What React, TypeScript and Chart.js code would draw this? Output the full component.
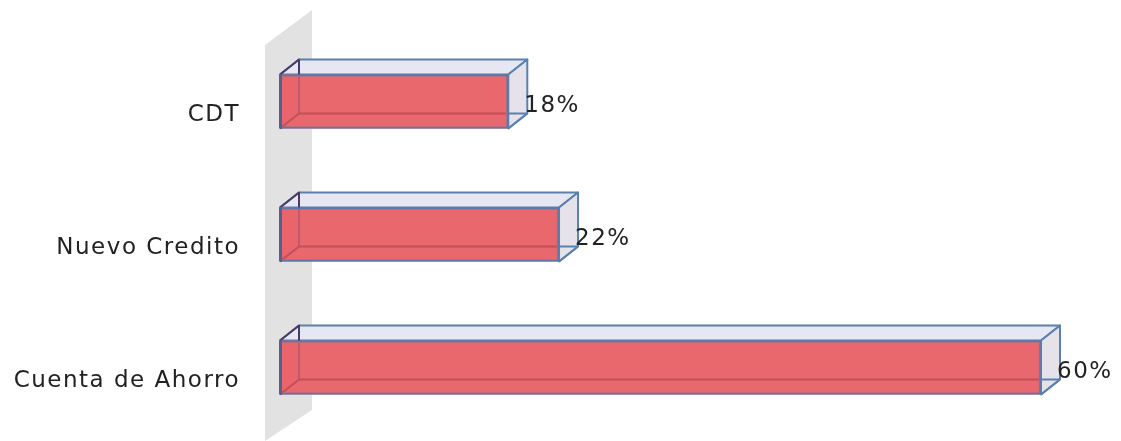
import React, { useEffect, useRef } from "react";
import { Chart, registerables } from "chart.js";

Chart.register(...registerables);

const categories = ["CDT", "Nuevo Credito", "Cuenta de Ahorro"];
const shares = [18, 22, 60];

const FONT = '"DejaVu Sans", sans-serif';
const FONT_SIZE = 23;
const TEXT_SPACING = "1.5px";
const DEPTH_X = 19;
const DEPTH_Y = -15;
const EDGE = "#5A80B0";

type Pt = [number, number];

function poly(ctx: CanvasRenderingContext2D, pts: Pt[], fill?: string, stroke?: string, lw = 2) {
  ctx.beginPath();
  pts.forEach(([x, y], i) => (i ? ctx.lineTo(x, y) : ctx.moveTo(x, y)));
  ctx.closePath();
  if (fill) {
    ctx.fillStyle = fill;
    ctx.fill();
  }
  if (stroke) {
    ctx.strokeStyle = stroke;
    ctx.lineWidth = lw;
    ctx.lineJoin = "round";
    ctx.stroke();
  }
}

function segment(ctx: CanvasRenderingContext2D, pts: Pt[], color: string, lw = 2) {
  ctx.beginPath();
  pts.forEach(([x, y], i) => (i ? ctx.lineTo(x, y) : ctx.moveTo(x, y)));
  ctx.strokeStyle = color;
  ctx.lineWidth = lw;
  ctx.stroke();
}

function barBox(bar: any) {
  const half = bar.height / 2;
  return { l: bar.base, r: bar.x, t: bar.y - half, b: bar.y + half };
}

// Wide tracking for every label; the canvas context carries it into tick drawing.
const tracking = {
  id: "tracking",
  beforeDraw(chart: any) {
    chart.ctx.letterSpacing = TEXT_SPACING;
  },
};

// Side wall and the rear faces of each box, painted behind the bars.
const backFaces = {
  id: "backFaces",
  beforeDatasetsDraw(chart: any) {
    const { ctx, chartArea } = chart;
    const x0 = chartArea.left;
    ctx.save();
    poly(ctx, [
      [x0 - 15, chartArea.top + 10],
      [x0 + 32, chartArea.top - 25],
      [x0 + 32, chartArea.bottom - 24],
      [x0 - 15, chartArea.bottom + 7],
    ], "#E2E2E2");
    chart.getDatasetMeta(0).data.forEach((bar: any) => {
      const { l, r, t, b } = barBox(bar);
      const bx = DEPTH_X;
      const by = DEPTH_Y;
      // Rear pane and floor share one red so the front face reads evenly.
      poly(ctx, [[l + bx, t], [r, t], [r, b + by], [l + bx, b + by]], "#E8686D");
      poly(ctx, [[l, b], [l + bx, b + by], [r + bx, b + by], [r, b]], "#E8686D");
      poly(ctx, [[l, t], [l + bx, t + by], [r + bx, t + by], [r, t]], "#E7E7F4", EDGE);
      poly(ctx, [[r, t], [r + bx, t + by], [r + bx, b + by], [r, b]], "#E6E2EA", EDGE);
      poly(ctx, [[l, t], [l + bx, t], [l + bx, b + by], [l, b]], "#EC5F65");
      segment(ctx, [[l, t], [l + bx, t + by], [l + bx, b + by]], "#4A3A68");
      segment(ctx, [[l, b], [l + bx, b + by], [r, b + by]], "#5A1020");
      segment(ctx, [[r, b + by], [r + bx, b + by]], EDGE);
      segment(ctx, [[r, b], [r + bx, b + by]], EDGE);
    });
    ctx.restore();
  },
};

// Heavier near-side edge of each box plus the percentage label past its end.
const shareLabels = {
  id: "shareLabels",
  afterDatasetsDraw(chart: any) {
    const { ctx } = chart;
    ctx.save();
    ctx.font = `${FONT_SIZE}px ${FONT}`;
    ctx.letterSpacing = TEXT_SPACING;
    ctx.fillStyle = "#222";
    ctx.textAlign = "left";
    ctx.textBaseline = "middle";
    chart.getDatasetMeta(0).data.forEach((bar: any, i: number) => {
      const { l, t, b } = barBox(bar);
      segment(ctx, [[l + 0.5, t], [l + 0.5, b]], "#55608F", 3);
      ctx.fillText(`${shares[i]}%`, bar.x + 16, bar.y + 5);
    });
    ctx.restore();
  },
};

export default function App() {
  const ref = useRef<HTMLCanvasElement>(null);

  useEffect(() => {
    const chart = new Chart(ref.current!, {
      type: "bar",
      data: {
        labels: categories,
        datasets: [
          {
            data: shares,
            backgroundColor: "rgba(232, 104, 109, 0.72)",
            borderColor: "#5F78A6",
            borderWidth: 2,
            barThickness: 54,
          },
        ],
      },
      options: {
        indexAxis: "y",
        animation: false,
        responsive: false,
        layout: { padding: { top: 35, bottom: 7, left: 0, right: 80 } },
        plugins: { legend: { display: false }, tooltip: { enabled: false } },
        scales: {
          x: { display: false, min: 0, max: 60 },
          y: {
            afterFit(scale: any) {
              scale.width = 280;
              scale.paddingTop = 0;
              scale.paddingBottom = 0;
            },
            grid: { display: false, tickLength: 40 },
            border: { display: false },
            ticks: {
              padding: 0,
              labelOffset: 14,
              color: "#222",
              font: { family: FONT, size: FONT_SIZE },
            },
          },
        },
      },
      plugins: [tracking, backFaces, shareLabels],
    } as any);
    return () => chart.destroy();
  }, []);

  return (
    <div style={{ position: "absolute", left: 0, top: 0, width: 1121, height: 441, background: "#fff" }}>
      <canvas ref={ref} width={1121} height={441} style={{ display: "block" }} />
    </div>
  );
}
